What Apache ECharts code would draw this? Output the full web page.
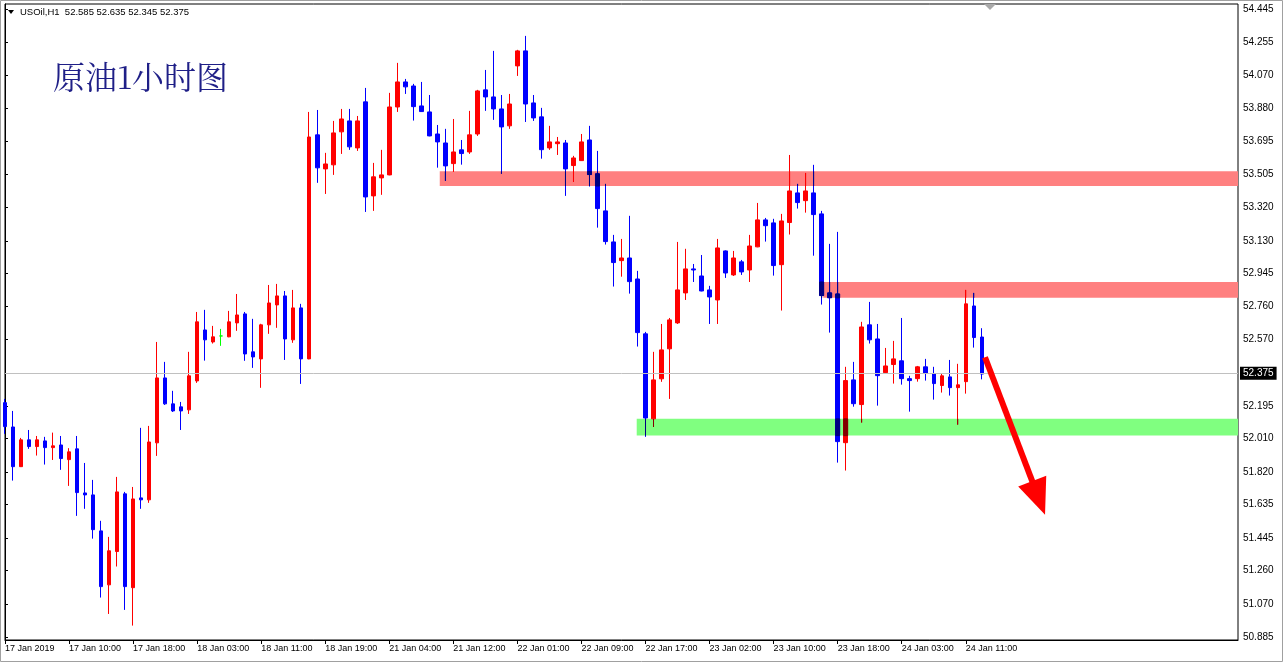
<!DOCTYPE html>
<html><head><meta charset="utf-8">
<script src="https://cdn.jsdelivr.net/npm/echarts@6.0.0/dist/echarts.min.js"></script>
<style>html,body{margin:0;padding:0;background:#fff}#c{width:1283px;height:663px}</style>
</head><body><div id="c"></div>
<script>
const headerText = 'USOil,H1  52.585 52.635 52.345 52.375';
const chartTitle = '原油1小时图';
const timeLabels = ['17 Jan 2019','17 Jan 10:00','17 Jan 18:00','18 Jan 03:00','18 Jan 11:00','18 Jan 19:00','21 Jan 04:00','21 Jan 12:00','22 Jan 01:00','22 Jan 09:00','22 Jan 17:00','23 Jan 02:00','23 Jan 10:00','23 Jan 18:00','24 Jan 03:00','24 Jan 11:00'];
const slotCount = 155;
const opens = [52.213,52.075,51.850,52.002,51.964,51.996,51.958,51.973,51.890,51.951,51.701,51.690,51.486,51.180,51.369,51.696,51.164,51.673,51.662,51.985,52.353,52.206,52.189,52.172,52.336,52.625,52.557,52.591,52.586,52.665,52.716,52.501,52.461,52.654,52.767,52.818,52.569,52.750,52.461,53.731,53.538,53.561,53.748,53.810,53.657,53.918,53.385,53.487,53.504,53.889,54.031,54.008,53.895,53.861,53.736,53.685,53.568,53.646,53.634,53.736,53.986,53.946,53.878,53.782,54.122,54.207,53.912,53.833,53.657,53.681,53.685,53.557,53.585,53.702,53.510,53.300,53.124,53.018,53.033,52.914,52.603,52.121,52.348,52.518,52.665,52.835,52.971,52.931,52.852,52.795,53.073,52.937,53.011,52.965,53.096,53.249,53.232,52.995,53.234,53.402,53.358,53.402,53.283,52.835,52.829,51.986,52.342,52.202,52.654,52.574,52.383,52.429,52.450,52.349,52.349,52.416,52.376,52.310,52.359,52.298,52.332,52.761,52.585];
const closes = [52.077,51.850,52.002,51.964,52.002,51.958,51.968,51.896,51.934,51.703,51.690,51.493,51.170,51.373,51.707,51.170,51.667,51.662,51.990,52.353,52.206,52.166,52.166,52.365,52.671,52.569,52.586,52.591,52.671,52.710,52.489,52.472,52.654,52.778,52.818,52.574,52.750,52.461,53.719,53.544,53.566,53.742,53.821,53.663,53.810,53.379,53.493,53.504,53.889,54.031,54.003,53.891,53.863,53.725,53.691,53.555,53.634,53.625,53.731,53.980,53.946,53.878,53.776,53.906,54.207,53.906,53.827,53.647,53.691,53.691,53.538,53.600,53.691,53.506,53.313,53.126,53.007,53.033,52.899,52.610,52.126,52.342,52.512,52.682,52.852,52.971,52.965,52.846,52.812,53.090,52.948,53.033,52.954,53.101,53.249,53.216,52.990,53.243,53.413,53.347,53.413,53.279,52.820,52.808,51.992,52.338,52.207,52.642,52.569,52.366,52.421,52.461,52.349,52.338,52.416,52.378,52.321,52.365,52.298,52.314,52.773,52.582,52.375];
const lows = [52.036,51.771,51.848,51.951,51.913,51.862,51.888,51.832,51.741,51.571,51.611,51.442,51.108,51.015,51.284,51.038,50.949,51.611,51.645,51.911,52.200,52.160,52.058,52.149,52.325,52.451,52.548,52.535,52.584,52.620,52.450,52.410,52.297,52.603,52.637,52.455,52.552,52.319,52.459,53.459,53.396,53.504,53.623,53.646,53.640,53.294,53.300,53.391,53.502,53.861,53.963,53.812,53.861,53.723,53.545,53.470,53.521,53.562,53.623,53.725,53.867,53.816,53.510,53.765,54.065,53.804,53.810,53.596,53.646,53.617,53.385,53.464,53.583,53.438,53.205,53.109,52.871,52.927,52.831,52.531,52.019,52.075,52.331,52.234,52.659,52.795,52.897,52.844,52.659,52.659,52.920,52.931,52.937,52.897,53.094,53.126,52.933,52.735,53.166,53.313,53.290,53.046,52.769,52.610,51.873,51.828,52.190,52.100,52.548,52.196,52.376,52.321,52.315,52.162,52.332,52.338,52.230,52.270,52.253,52.088,52.264,52.525,52.345];
const highs = [52.234,52.166,52.013,52.058,52.024,52.019,52.043,52.024,51.955,52.024,51.871,51.775,51.543,51.452,51.792,51.707,51.735,52.070,52.081,52.557,52.444,52.280,52.217,52.501,52.727,52.739,52.648,52.631,52.733,52.829,52.727,52.688,52.660,52.880,52.886,52.846,52.852,52.773,53.861,53.872,53.629,53.810,53.878,53.878,53.838,53.997,53.572,53.646,53.969,54.139,54.048,54.020,54.031,53.957,53.787,53.765,53.821,53.702,53.867,53.986,54.099,54.207,53.957,53.963,54.213,54.292,53.957,53.884,53.782,53.719,53.702,53.612,53.736,53.782,53.640,53.453,53.164,53.141,53.272,52.960,52.614,52.501,52.659,52.693,53.124,53.085,52.999,53.050,52.875,53.141,53.076,53.073,53.022,53.164,53.345,53.260,53.255,53.283,53.617,53.453,53.515,53.561,53.300,53.113,53.181,52.416,52.444,52.671,52.784,52.659,52.523,52.563,52.693,52.365,52.421,52.461,52.416,52.376,52.455,52.433,52.852,52.835,52.635];
const priceTicks = [54.445,54.255,54.070,53.880,53.695,53.505,53.320,53.130,52.945,52.760,52.570,52.195,52.010,51.820,51.635,51.445,51.260,51.070,50.885];
const lastPrice = 52.375;
const zoneStart = [54.3, 102.2, 78.9];
const zoneTop = [53.524, 52.897, 52.121];
const zoneBottom = [53.441, 52.807, 52.026];
const zoneColors = ['#ff8080', '#ff8080', '#80ff80'];
const arrowFrom = [122.4, 52.47];
const arrowTo = [129.9, 51.577];

const bullColor = '#ff0000', bearColor = '#0000ff', dojiColor = '#00ff00';
const bodyWidth = 4;
const categories = Array.from({length: slotCount}, (_, i) => String(i));
const candleData = opens.map((o, i) => [o, closes[i], lows[i], highs[i]]);
const indexedCandles = opens.map((o, i) => [i, o, closes[i], lows[i], highs[i]]);
const showTick = (i) => i % 8 === 0 && i / 8 < timeLabels.length;
const axisFont = "'Liberation Sans', Arial, sans-serif";

function hexRgb(h) { return [parseInt(h.slice(1, 3), 16), parseInt(h.slice(3, 5), 16), parseInt(h.slice(5, 7), 16)]; }
function multiply(a, b) {
  const x = hexRgb(a), y = hexRgb(b);
  return 'rgb(' + x.map((v, k) => Math.round(v * y[k] / 255)).join(',') + ')';
}

const chart = echarts.init(document.getElementById('c'), null, {renderer: 'canvas'});
chart.setOption({
  animation: false,
  backgroundColor: '#ffffff',
  grid: {left: 5, right: 45, top: 4, bottom: 23, show: true, borderColor: '#000', borderWidth: 1, backgroundColor: '#fff'},
  xAxis: [
    {type: 'category', data: categories, boundaryGap: false,
     axisLine: {show: true, lineStyle: {color: '#000'}},
     axisTick: {show: true, interval: showTick, length: 4, lineStyle: {color: '#000'}},
     axisLabel: {interval: showTick, formatter: (v, i) => timeLabels[i / 8] || '', align: 'left', color: '#000', fontSize: 9, fontFamily: axisFont, margin: 4},
     splitLine: {show: false}},
    {type: 'value', min: 0, max: slotCount - 1, show: false}
  ],
  yAxis: {type: 'value', position: 'right', min: 50.8674, max: 54.4728,
    splitLine: {show: false},
    axisLine: {show: true, lineStyle: {color: '#000'}},
    axisTick: {show: true, length: 3, customValues: priceTicks, lineStyle: {color: '#000'}},
    axisLabel: {customValues: priceTicks, formatter: v => v.toFixed(3), color: '#000', fontSize: 10, fontFamily: axisFont, margin: 5}
  },
  series: [
    {type: 'custom', xAxisIndex: 1, yAxisIndex: 0, z: 1, silent: true,
     data: zoneStart.map((s, i) => [s, zoneTop[i], zoneBottom[i]]),
     encode: {x: 0, y: [1, 2]},
     renderItem: (params, api) => {
       const p0 = api.coord([api.value(0), api.value(1)]);
       const p1 = api.coord([api.value(0), api.value(2)]);
       const right = params.coordSys.x + params.coordSys.width;
       return {type: 'rect', shape: {x: p0[0], y: p0[1], width: right - p0[0], height: p1[1] - p0[1]},
               style: {fill: zoneColors[params.dataIndex]}};
     }},
    {type: 'candlestick', xAxisIndex: 0, data: candleData, barWidth: bodyWidth, z: 2,
     itemStyle: {color: bullColor, color0: bearColor, borderColor: bullColor, borderColor0: bearColor, borderColorDoji: dojiColor, borderWidth: 1},
     markLine: {silent: true, symbol: 'none', animation: false,
       lineStyle: {color: '#c0c0c0', width: 1, type: 'solid'},
       label: {position: 'end', formatter: () => lastPrice.toFixed(3), backgroundColor: '#000', color: '#fff', fontSize: 10, fontFamily: axisFont, padding: [2, 3, 1, 3], distance: 2},
       data: [{yAxis: lastPrice}]}
    },
    {type: 'custom', xAxisIndex: 0, yAxisIndex: 0, z: 3, silent: true,
     data: indexedCandles,
     encode: {x: 0, y: [1, 2, 3, 4]},
     renderItem: (params, api) => {
       const i = api.value(0), o = api.value(1), c = api.value(2), l = api.value(3), h = api.value(4);
       const base = c > o ? bullColor : (c < o ? bearColor : dojiColor);
       const children = [];
       zoneStart.forEach((s, z) => {
         if (i <= s - 0.3) return;
         const zt = zoneTop[z], zb = zoneBottom[z];
         const col = multiply(base, zoneColors[z]);
         const cx = api.coord([i, zt])[0];
         const wt = Math.min(h, zt), wb = Math.max(l, zb);
         if (wt > wb) {
           const y1 = api.coord([i, wt])[1], y2 = api.coord([i, wb])[1];
           children.push({type: 'line', shape: {x1: cx, y1: y1, x2: cx, y2: y2}, style: {stroke: col, lineWidth: 1}});
         }
         const bt = Math.min(Math.max(o, c), zt), bb = Math.max(Math.min(o, c), zb);
         if (bt > bb) {
           const y1 = api.coord([i, bt])[1], y2 = api.coord([i, bb])[1];
           children.push({type: 'rect', shape: {x: cx - bodyWidth / 2, y: y1, width: bodyWidth, height: y2 - y1}, style: {fill: col, stroke: col, lineWidth: 1}});
         }
       });
       return {type: 'group', children: children};
     }},
    {type: 'custom', xAxisIndex: 1, yAxisIndex: 0, z: 6, silent: true,
     data: [[arrowFrom[0], arrowFrom[1], arrowTo[0], arrowTo[1]]],
     encode: {x: [0, 2], y: [1, 3]},
     renderItem: (params, api) => {
       const a = api.coord([api.value(0), api.value(1)]);
       const b = api.coord([api.value(2), api.value(3)]);
       const dx = b[0] - a[0], dy = b[1] - a[1], len = Math.hypot(dx, dy);
       const ux = dx / len, uy = dy / len, px = -uy, py = ux;
       const headLen = 36, headHalf = 15;
       const bx = b[0] - ux * headLen, by = b[1] - uy * headLen;
       return {type: 'group', children: [
         {type: 'line', shape: {x1: a[0], y1: a[1], x2: bx + ux * 4, y2: by + uy * 4}, style: {stroke: '#ff0000', lineWidth: 6}},
         {type: 'polygon', shape: {points: [[b[0], b[1]], [bx + px * headHalf, by + py * headHalf], [bx - px * headHalf, by - py * headHalf]]}, style: {fill: '#ff0000'}}
       ]};
     }}
  ],
  graphic: [
    {type: 'rect', shape: {x: 0.5, y: 0.5, width: 1282, height: 661}, style: {fill: 'none', stroke: '#a0a0a0', lineWidth: 1}, silent: true, z: 0},
    {type: 'polygon', shape: {points: [[8, 10], [14, 10], [11, 14]]}, style: {fill: '#000'}, z: 10},
    {type: 'text', x: 20, y: 12, style: {text: headerText, font: "9.5px 'Liberation Sans', Arial, sans-serif", fill: '#000', verticalAlign: 'middle'}, z: 10},
    {type: 'text', x: 53, y: 77, style: {text: chartTitle, font: "32px 'Noto Serif CJK SC', 'Noto Sans CJK SC', serif", fill: '#1f1f87', verticalAlign: 'middle'}, z: 10},
    {type: 'polygon', shape: {points: [[984, 4], [996, 4], [990, 10]]}, style: {fill: '#a9a9a9'}, z: 10}
  ]
});
</script>
</body></html>
